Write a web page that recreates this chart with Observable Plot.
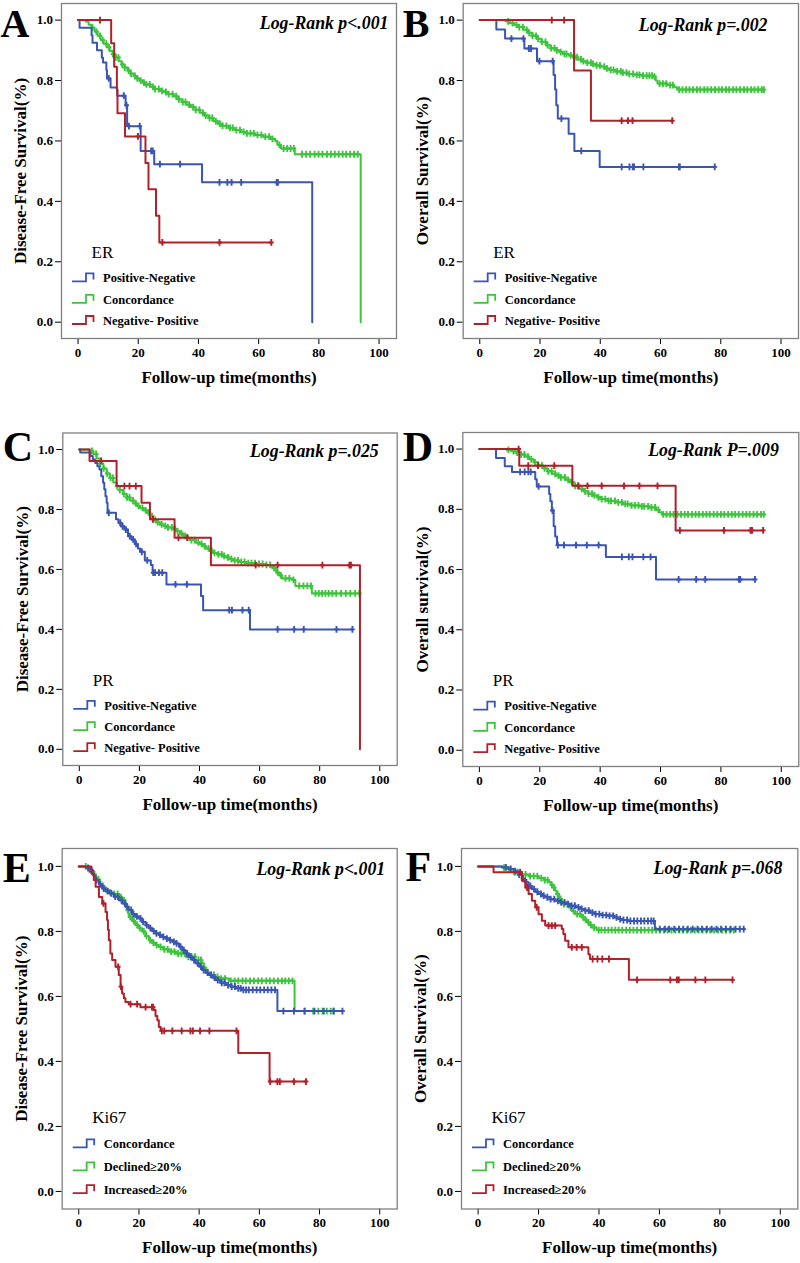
<!DOCTYPE html>
<html><head><meta charset="utf-8">
<script src="https://cdn.jsdelivr.net/npm/d3@7"></script>
<script src="https://cdn.jsdelivr.net/npm/@observablehq/plot@0.6"></script>
<style>
html,body{margin:0;padding:0;background:#fff;}
#wrap{position:relative;width:800px;height:1263px;overflow:hidden;background:#fff;}
.cell{position:absolute;}
</style></head><body><div id="wrap"></div>
<script>
// ---------- tick labels ----------
const xTicks = [0, 20, 40, 60, 80, 100];
const yTicks = [0, 0.2, 0.4, 0.6, 0.8, 1.0];

// ---------- Panel A : ER, disease-free survival ----------
const aPosNegEvents = [[0,1],[0.5,0.975],[4.5,0.95],[4.8,0.925],[6.3,0.9],[7.9,0.875],[8.3,0.86],[9.4,0.835],[9.6,0.807],[10.8,0.777],[13,0.75],[15.8,0.718],[16.3,0.649],[20.8,0.567],[25.3,0.523],[41.2,0.463],[77.8,0]];
const aPosNegCens = [10.2,15.2,16.1,16.9,20.5,24.3,24.8,27.2,33.9,47,49.6,51,54.2,66,66.4];
const aConcEvents = [[0,1],[2.5,0.995],[3.5,0.985],[4.5,0.975],[5.5,0.962],[6.5,0.948],[7.5,0.934],[8.5,0.922],[9.5,0.91],[10.5,0.898],[11.5,0.887],[12.5,0.876],[13.5,0.864],[14.5,0.853],[15.5,0.843],[16.5,0.833],[17.5,0.823],[18.5,0.815],[19.5,0.807],[20.5,0.8],[21.5,0.793],[22.5,0.787],[24,0.779],[25.5,0.772],[27,0.766],[28.5,0.762],[30,0.755],[31.5,0.748],[33,0.738],[34.5,0.729],[36,0.72],[37.5,0.712],[39,0.703],[40.5,0.693],[42,0.684],[43.5,0.676],[45,0.665],[46.5,0.657],[48,0.65],[50,0.643],[52,0.636],[54,0.63],[56,0.625],[58.5,0.62],[61.5,0.614],[64,0.607],[65.5,0.6],[66.2,0.587],[67.4,0.575],[72,0.556],[93.9,0]];
const aConcCens = [4.8,6.1,7.3,8.2,9.4,10.3,11.6,12.5,13.4,14.7,15.5,16.8,17.6,18.9,19.7,20.8,21.9,22.7,23.8,24.9,25.6,26.8,27.9,29.2,30.1,31.4,32.6,33.5,34.8,35.7,36.9,38.2,39.1,40.3,41.5,42.4,43.7,44.6,45.8,47.1,48.0,49.3,50.5,51.4,52.6,53.8,55.0,56.1,57.3,58.4,59.6,60.9,62.2,63.5,64.6,66.9,68.3,69.5,70.6,71.7,74.4,75.8,77.1,78.6,79.9,81.2,82.7,84.0,85.3,86.6,87.9,89.1,90.4,91.7,92.9];
const aNegPosEvents = [[0,1],[11,0.923],[12,0.846],[12.9,0.769],[13.1,0.692],[15.6,0.615],[22.4,0.527],[23.4,0.44],[25.9,0.352],[27,0.264]];
const aNegPosCens = [7.3,19.9,28,47,64.2];

// ---------- Panel B : ER, overall survival ----------
const bPosNegEvents = [[0,1],[5.5,0.969],[8.4,0.939],[14.8,0.906],[19,0.864],[24.5,0.818],[25,0.77],[25.4,0.718],[25.9,0.674],[29.5,0.624],[31.4,0.567],[39.8,0.514]];
const bPosNegCens = [10.5,14.5,16.3,17,19.8,24.2,27.1,33.7,47.1,49.7,50.8,51.2,54.3,66.1,66.4,78];
const bConcEvents = [[0,1],[8.5,0.996],[10,0.99],[11.5,0.984],[13,0.977],[14.5,0.968],[16,0.958],[17.5,0.948],[19,0.938],[20.5,0.928],[22,0.917],[23.5,0.907],[25,0.9],[26.5,0.894],[28,0.888],[29.5,0.883],[31,0.877],[32.5,0.87],[34,0.864],[35.5,0.859],[37,0.855],[38.5,0.85],[40,0.846],[41.5,0.84],[43,0.835],[45,0.83],[47,0.826],[49,0.822],[51,0.819],[54,0.816],[57.5,0.813],[58.4,0.8],[59,0.79],[62,0.785],[64.5,0.778],[65.5,0.77]];
const bConcCens = [9.4,10.9,12.2,13.1,14.3,15.6,16.4,17.5,18.7,19.4,20.6,21.8,22.5,23.7,24.8,25.6,26.9,28.1,28.8,30.2,31.5,32.3,33.6,34.4,35.7,36.9,37.6,38.8,39.9,41.3,42.2,43.5,44.4,45.6,46.8,47.5,48.7,49.6,50.9,52.1,53.0,54.2,55.4,56.3,57.2,58.0,59.7,60.8,61.9,63.2,64.1,66.2,67.3,68.5,69.6,70.8,72.1,73.2,74.5,75.6,76.8,78.1,79.3,80.4,81.7,82.8,84.1,85.2,86.4,87.7,88.8,90.1,91.2,92.4,93.6,94.3];
const bNegPosEvents = [[0,1],[31.3,0.833],[36.9,0.667]];
const bNegPosCens = [23.9,28,47.1,49.2,50.7,63.9];

// ---------- Panel C : PR, disease-free survival ----------
const cPosNegEvents = [[0,1],[0.3,0.99],[3.6,0.978],[4.5,0.967],[5.3,0.955],[6,0.944],[6.7,0.933],[7.3,0.911],[7.9,0.889],[8.3,0.867],[8.7,0.844],[9.1,0.822],[9.4,0.789],[12.2,0.767],[13,0.756],[13.8,0.744],[15,0.733],[16.2,0.711],[17.3,0.7],[18.5,0.685],[19.5,0.67],[20.2,0.659],[21.8,0.63],[23.8,0.615],[24.4,0.589],[29,0.55],[40.5,0.511],[41.2,0.464],[56.8,0.4]];
const cPosNegCens = [9.8,13.6,14.4,15.5,16.8,17.9,18.9,20.8,22.6,24.6,25.2,26.5,27.6,32,35.8,49.9,50.8,54.3,56.4,66,71.5,74.7,85.6,90.9];
const cConcEvents = [[0,1],[3.5,0.995],[4.7,0.985],[5.8,0.97],[6.9,0.953],[8,0.937],[9.1,0.92],[10.2,0.905],[11.3,0.89],[12.4,0.877],[13.5,0.865],[14.6,0.852],[15.7,0.84],[16.8,0.83],[18,0.82],[19.1,0.812],[20.2,0.805],[21.3,0.797],[22.4,0.79],[23.5,0.778],[24.6,0.765],[25.7,0.757],[26.8,0.75],[28,0.745],[29.5,0.74],[31.2,0.735],[32.3,0.728],[33.4,0.72],[34.5,0.712],[35.6,0.705],[37,0.698],[38.5,0.69],[40,0.685],[41.1,0.677],[42.2,0.67],[43.3,0.662],[44.4,0.655],[46,0.65],[47.5,0.645],[48.9,0.64],[50,0.635],[51,0.63],[53,0.625],[55.5,0.621],[59,0.618],[62,0.615],[64.2,0.605],[65.5,0.59],[66.5,0.58],[67.5,0.57],[70.8,0.565],[71.9,0.545],[77.4,0.52]];
const cConcCens = [4.2,5.6,6.9,8.1,9.3,10.4,11.2,12.6,13.5,14.8,15.9,16.7,17.9,18.8,19.7,21.0,22.1,23.0,24.2,25.3,26.1,27.4,28.6,29.5,30.8,31.9,32.7,34.0,35.2,36.1,37.3,38.4,39.6,40.7,41.8,43.0,44.1,45.0,46.3,47.4,48.2,49.5,50.6,51.7,52.8,53.9,55.0,56.2,57.3,58.5,59.8,61.0,62.3,63.5,64.8,66.0,67.1,68.6,69.9,71.3,73.2,74.6,75.9,77.1,78.6,79.7,80.8,81.9,83.0,84.2,85.5,87.1,88.7,90.2,91.8,93.2];
const cNegPosEvents = [[0,1],[3.4,0.962],[12.4,0.878],[20.7,0.822],[23.5,0.767],[31.7,0.706],[43.8,0.614],[93.4,0]];
const cNegPosCens = [7.3,15,16.7,18.8,24.5,33,35.9,58.7,66,80.9,89.9,90.4];

// ---------- Panel D : PR, overall survival ----------
const dPosNegEvents = [[0,1],[5.5,0.97],[8.4,0.943],[10.8,0.924],[18.5,0.9],[19,0.876],[23.1,0.851],[23.5,0.827],[24,0.796],[24.6,0.744],[25.1,0.71],[25.7,0.681],[41.9,0.642],[58.5,0.567]];
const dPosNegCens = [13.5,15,16.2,17,19.6,24.2,26,28,32,35.6,39.5,47.2,49.5,50.7,54.3,56.7,66,71.8,74.8,86,86.4,91.3];
const dConcEvents = [[0,1],[9,0.997],[10.5,0.993],[12,0.988],[13.5,0.982],[15,0.975],[16.5,0.966],[18,0.956],[19.5,0.946],[21,0.936],[22.5,0.926],[24,0.918],[25.5,0.912],[27,0.906],[28.5,0.898],[30,0.89],[31.5,0.878],[33,0.868],[34.5,0.86],[36,0.852],[37.5,0.846],[39,0.84],[40.5,0.834],[42.5,0.828],[45,0.823],[47.5,0.818],[50,0.813],[53,0.81],[56,0.806],[58.5,0.798],[59.5,0.79],[60.5,0.783]];
const dConcCens = [9.6,11.3,12.5,13.8,14.9,16.1,17.2,18.4,19.5,20.7,21.6,22.8,23.9,25.1,26.2,27.0,28.3,29.4,30.6,31.7,32.6,33.9,35.0,36.2,37.3,38.1,39.4,40.5,41.7,42.8,43.6,44.9,46.0,47.2,48.3,49.1,50.4,51.5,52.7,53.8,54.6,55.9,57.0,58.2,59.3,60.9,62.0,63.2,64.3,65.6,66.8,68.0,69.1,70.4,71.6,72.7,74.0,75.2,76.3,77.6,78.8,80.0,81.1,82.4,83.6,84.7,85.9,87.2,88.4,89.5,90.8,92.0,93.3,94.2];
const dNegPosEvents = [[0,1],[13.2,0.945],[30.8,0.878],[65,0.73]];
const dNegPosCens = [13,16.2,19.4,24.8,32.8,35.8,40.5,47.9,53,59,66.4,81,89.8,90.3,94];

// ---------- Panel E : Ki67, disease-free survival ----------
const eConcEvents = [[0,1],[2.5,0.995],[3.8,0.985],[4.8,0.972],[5.6,0.958],[6.7,0.945],[7.8,0.932],[8.9,0.924],[10,0.917],[11.6,0.907],[13.3,0.896],[14.4,0.886],[15.5,0.876],[16.6,0.866],[17.7,0.853],[18.8,0.846],[20,0.84],[21.1,0.829],[22.2,0.819],[23.3,0.81],[24.4,0.801],[25.5,0.794],[26.6,0.789],[27.7,0.783],[28.8,0.778],[30,0.773],[31.1,0.768],[32.2,0.763],[33.3,0.753],[34.4,0.742],[35.5,0.732],[36.6,0.722],[37.7,0.712],[38.8,0.702],[39.9,0.692],[41,0.681],[42.1,0.673],[43.2,0.666],[44.3,0.658],[45.5,0.65],[47,0.642],[48.8,0.635],[50.5,0.63],[52.1,0.625],[54.3,0.62],[66,0.555]];
const eConcCens = [3.1,4.4,5.9,7.2,8.3,9.6,10.8,12.1,13.0,14.2,15.3,16.1,17.4,18.2,19.3,20.5,21.4,22.6,23.8,24.9,25.8,27.0,28.1,29.3,30.4,31.6,32.5,33.8,34.9,36.0,37.2,38.3,39.5,40.6,41.5,42.8,44.0,45.1,46.2,47.5,48.4,49.6,50.8,51.9,53.0,53.8,54.7,55.6,56.5,57.8,59.1,60.3,61.6,62.8,64.0,65.2,68.0,71.5,75.0,78.3,81.4,84.6,87.6];
const eDecEvents = [[0,1],[3.5,0.99],[4.8,0.975],[5.6,0.96],[7,0.94],[8.5,0.928],[10,0.92],[11.6,0.915],[13.3,0.905],[14.4,0.895],[15.5,0.884],[16,0.865],[16.6,0.845],[17.7,0.832],[18.8,0.82],[19.9,0.81],[21,0.8],[22.2,0.786],[23.3,0.773],[24.4,0.765],[25.5,0.758],[26.6,0.752],[28,0.745],[29.9,0.738],[32.2,0.732],[35.5,0.722],[38.8,0.712],[41,0.702],[41.6,0.69],[42.1,0.681],[42.7,0.672],[43.2,0.666],[45,0.66],[46.6,0.655],[49.9,0.648],[71.7,0.555]];
const eDecCens = [2.3,3.6,5.2,6.5,8.0,9.1,10.5,11.8,12.9,14.0,15.1,16.3,17.1,18.3,19.4,20.3,21.6,22.5,23.7,24.8,25.9,27.2,28.4,29.5,30.7,31.8,33.0,34.1,35.3,36.4,37.5,38.6,39.8,40.6,42.4,43.8,44.9,46.1,47.3,48.6,50.5,51.8,53.0,54.4,55.5,56.9,58.2,59.6,60.8,62.3,63.5,64.8,66.2,67.5,68.6,69.8,71.0,75.1,77.9,79.6,81.0,82.4,83.7,84.8];
const eIncEvents = [[0,1],[4.2,0.978],[5,0.958],[5.6,0.937],[6.7,0.906],[7.8,0.886],[8.9,0.86],[9.4,0.835],[9.7,0.805],[10,0.773],[10.5,0.732],[11.1,0.712],[12.2,0.691],[13.3,0.666],[13.9,0.63],[14.4,0.609],[15,0.594],[15.5,0.583],[16.6,0.576],[20.5,0.567],[24.9,0.558],[25.5,0.54],[26.1,0.527],[26.6,0.506],[27.2,0.494],[53,0.426],[63.4,0.338]];
const eIncCens = [8.2,13.1,14,17.2,19.4,22.2,24.3,24.7,27.6,28.4,31.1,34.2,37.1,37.9,40.3,43.4,52.4,63.6,66,66.8,71.5,75.5];

// ---------- Panel F : Ki67, overall survival ----------
const fConcEvents = [[0,1],[8,0.997],[10,0.992],[12,0.985],[13.5,0.975],[14.5,0.962],[15.6,0.951],[16.7,0.94],[17.8,0.93],[18.9,0.922],[20,0.915],[21.1,0.91],[22.2,0.905],[23.9,0.899],[25.5,0.894],[27.2,0.889],[28.8,0.884],[30.5,0.879],[32.1,0.874],[33.8,0.869],[35.4,0.864],[37,0.858],[38.7,0.853],[41,0.85],[43.1,0.848],[44.8,0.843],[46.4,0.838],[48,0.835],[49.7,0.832],[58.5,0.807]];
const fConcCens = [9.2,10.8,12.3,13.6,14.9,16.0,17.3,18.5,19.6,20.8,21.7,22.9,24.0,25.2,26.4,27.5,28.6,29.8,30.9,32.0,33.2,34.3,35.5,36.6,37.8,38.9,40.1,41.2,42.4,43.5,44.7,45.8,47.0,48.1,49.3,50.4,51.6,52.7,53.9,55.0,56.2,57.3,58.1,60.1,61.8,63.2,64.9,66.5,67.9,69.4,71.0,72.6,74.1,75.7,77.3,78.9,80.4,82.0,83.6,85.2,86.6,87.9];
const fDecEvents = [[0,1],[8,0.996],[10.1,0.99],[11.8,0.982],[13.4,0.975],[16.7,0.97],[20,0.964],[22,0.958],[23.3,0.952],[24.1,0.943],[24.9,0.935],[25.5,0.925],[26,0.915],[26.8,0.9],[27.7,0.884],[29.9,0.874],[31,0.863],[32.1,0.853],[34.3,0.843],[35.1,0.836],[35.9,0.828],[36.8,0.82],[37.6,0.812],[39.2,0.804]];
const fDecCens = [8.6,10.4,12.0,13.1,14.5,15.7,17.2,18.4,19.6,20.9,22.1,23.0,24.4,25.1,26.3,27.3,28.4,29.5,30.6,31.6,32.8,33.7,34.8,35.6,36.5,37.3,38.4,39.9,40.8,41.9,43.1,44.2,45.4,46.5,47.7,49.0,50.2,51.4,52.6,53.9,55.1,56.4,57.6,58.9,60.2,61.5,62.7,64.0,65.3,66.6,67.8,69.1,70.4,71.7,73.0,74.3,75.5,76.8,78.1,79.4,80.7,82.0,83.3,84.6];
const fIncEvents = [[0,1],[5.1,0.982],[14.5,0.956],[15.6,0.935],[16.7,0.915],[17.8,0.894],[18.9,0.874],[20,0.853],[21.1,0.833],[22.2,0.818],[27.7,0.807],[28.2,0.792],[28.8,0.771],[29.9,0.751],[36.5,0.73],[37,0.715],[49.9,0.651]];
const fIncCens = [13.9,16.2,19.4,23.3,24.4,25.5,31,32.6,34.3,37.9,39.5,41.1,43.3,52.6,63.6,65.8,66.4,71.9,75.2,84.2];

// ---------- labels ----------
const erPrNames = ["Positive-Negative", "Concordance", "Negative- Positive"];
const ki67Names = ["Concordance", "Declined\u226520%", "Increased\u226520%"];
const panelLetters = ["A","B","C","D","E","F"];
const pValueTexts = ["Log-Rank p<.001","Log-Rank p=.002","Log-Rank p=.025","Log-Rank P=.009","Log-Rank p<.001","Log-Rank p=.068"];
const yTitles = ["Disease-Free Survival(%)","Overall Survival(%)","Disease-Free Survival(%)","Overall survival(%)","Disease-Free Survival(%)","Overall Survival(%)"];
const legendTitles = ["ER","ER","PR","PR","Ki67","Ki67"];
const xTitle = "Follow-up time(months)";

// ---------- style ----------
const FONT = "'Liberation Serif','Times New Roman',Times,serif";
const BLUE = "#3a55b4", GREEN = "#3dc43d", RED = "#b2202a";

// ---------- layout ----------
const layout = [
  {left:0,   top:0,   height:420, m:{t:3,  r:4,   b:82,   l:61},   pdx:-8,    pdy:19.5, ldx:-61,  ldy:33,   lfs:40},
  {left:400, top:0,   height:420, m:{t:3,  r:2,   b:82,   l:62.7}, pdx:-31,   pdy:22,   ldx:-60.5,ldy:33,   lfs:40},
  {left:0,   top:420, height:423, m:{t:12.5,r:3.3,b:78,   l:62.3}, pdx:-18.5, pdy:18.5, ldx:-60,  ldy:27.5, lfs:42},
  {left:400, top:420, height:423, m:{t:12, r:1.7, b:77,   l:62.3}, pdx:-20,   pdy:18,   ldx:-60,  ldy:28,   lfs:42},
  {left:0,   top:843, height:420, m:{t:5,  r:3.3, b:54.5, l:61.7}, pdx:-12,   pdy:21,   ldx:-59.5,ldy:33,   lfs:42},
  {left:400, top:843, height:420, m:{t:5,  r:2.7, b:54.5, l:61},   pdx:-15.5, pdy:20,   ldx:-56,  ldy:32,   lfs:42}
];

const panelGroups = [
  [[aPosNegEvents,aPosNegCens,BLUE],[aConcEvents,aConcCens,GREEN],[aNegPosEvents,aNegPosCens,RED]],
  [[bPosNegEvents,bPosNegCens,BLUE],[bConcEvents,bConcCens,GREEN],[bNegPosEvents,bNegPosCens,RED]],
  [[cPosNegEvents,cPosNegCens,BLUE],[cConcEvents,cConcCens,GREEN],[cNegPosEvents,cNegPosCens,RED]],
  [[dPosNegEvents,dPosNegCens,BLUE],[dConcEvents,dConcCens,GREEN],[dNegPosEvents,dNegPosCens,RED]],
  [[eConcEvents,eConcCens,BLUE],[eDecEvents,eDecCens,GREEN],[eIncEvents,eIncCens,RED]],
  [[fConcEvents,fConcCens,BLUE],[fDecEvents,fDecCens,GREEN],[fIncEvents,fIncCens,RED]]
];
const panelNames = [erPrNames, erPrNames, erPrNames, erPrNames, ki67Names, ki67Names];

// ---------- helpers ----------
function survAt(ev, t) {
  let s = 1;
  for (const [et, es] of ev) { if (et <= t) s = es; else break; }
  return s;
}
function stepPoints(ev, cens) {
  const pts = ev.map(([t, s]) => ({t, s}));
  const last = ev[ev.length - 1];
  const end = Math.max(last[0], ...cens);
  if (end > last[0]) pts.push({t: end, s: last[1]});
  return pts;
}
function censorPoints(ev, cens) {
  return cens.map(t => ({t, s: survAt(ev, t)}));
}
const plusSymbol = {
  draw(ctx, size) {
    const r = Math.sqrt(size / Math.PI);
    ctx.moveTo(0, -r); ctx.lineTo(0, r);
    ctx.moveTo(-r * 0.7, 0); ctx.lineTo(r * 0.7, 0);
  }
};

const wrap = document.getElementById("wrap");

layout.forEach((L, i) => {
  const groups = panelGroups[i];
  const order = [1, 0, 2]; // green first, then blue, then red
  const marks = [Plot.frame({stroke: "#808080", strokeWidth: 1.3})];
  order.forEach(k => {
    const [ev, cens, color] = groups[k];
    marks.push(Plot.line(stepPoints(ev, cens), {x: "t", y: "s", curve: "step-after", stroke: color, strokeWidth: 2}));
    marks.push(Plot.dot(censorPoints(ev, cens), {x: "t", y: "s", symbol: plusSymbol, r: 3.4, stroke: color, strokeWidth: 1.9, fill: "none"}));
  });
  marks.push(Plot.text([yTitles[i]], {text: d => d, frameAnchor: "left", rotate: -90, dx: -40.5, textAnchor: "middle", lineAnchor: "middle", fontSize: 17, fontWeight: "bold", fill: "#000"}));
  marks.push(Plot.text([xTitle], {text: d => d, frameAnchor: "bottom", dy: 39, textAnchor: "middle", lineAnchor: "middle", fontSize: 17, fontWeight: "bold", fill: "#000"}));
  marks.push(Plot.text([pValueTexts[i]], {text: d => d, frameAnchor: "top-right", dx: L.pdx, dy: L.pdy, textAnchor: "end", lineAnchor: "middle", fontSize: 17.8, fontWeight: "bold", fontStyle: "italic", fill: "#000"}));
  marks.push(Plot.text([panelLetters[i]], {text: d => d, frameAnchor: "top-left", dx: L.ldx, dy: L.ldy, textAnchor: "start", lineAnchor: "bottom", fontSize: L.lfs, fontWeight: "bold", fill: "#000"}));

  const chart = Plot.plot({
    width: 400,
    height: L.height,
    marginTop: L.m.t, marginRight: L.m.r, marginBottom: L.m.b, marginLeft: L.m.l,
    x: {domain: [-5.5, 105.8], ticks: xTicks, tickSize: 6, tickPadding: 3, label: null},
    y: {domain: [-0.054, 1.055], ticks: yTicks, tickSize: 6, tickPadding: 2.5, tickFormat: d3.format(".1f"), label: null},
    style: {fontFamily: FONT, fontSize: "13px", fontWeight: "bold", color: "#000", background: "#fff", overflow: "visible"},
    marks
  });

  // legend drawn inside the frame
  const ys = chart.scale("y");
  const fl = L.m.l;
  const g = d3.select(chart).append("g")
    .attr("font-family", FONT).attr("fill", "#000").attr("text-anchor", "start");
  g.append("text").attr("x", fl + 30.5).attr("y", ys.apply(0.21))
    .attr("font-size", 17).attr("font-weight", "normal").attr("text-anchor", "start").text(legendTitles[i]);
  const rowY = [0.145, 0.074, 0.004];
  panelNames[i].forEach((name, k) => {
    const yc = ys.apply(rowY[k]);
    const color = groups[k][2];
    g.append("path")
      .attr("d", `M${fl + 11},${yc + 3.5}H${fl + 25}V${yc - 4.5}H${fl + 32.5}V${yc + 1.5}`)
      .attr("fill", "none").attr("stroke", color).attr("stroke-width", 1.8);
    g.append("text").attr("x", fl + 42).attr("y", yc).attr("dy", "0.35em")
      .attr("font-size", 12.5).attr("font-weight", "bold").attr("text-anchor", "start").text(name);
  });

  const cell = document.createElement("div");
  cell.className = "cell";
  cell.style.left = L.left + "px";
  cell.style.top = L.top + "px";
  cell.appendChild(chart);
  wrap.appendChild(cell);
});
</script></body></html>
